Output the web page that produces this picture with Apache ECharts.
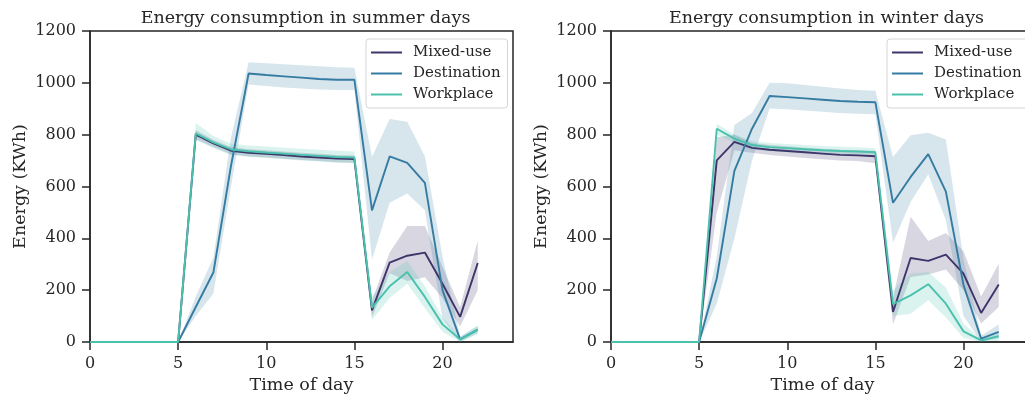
<!DOCTYPE html>
<html>
<head>
<meta charset="utf-8">
<script src="https://cdn.jsdelivr.net/npm/echarts@6/dist/echarts.min.js"></script>
<style>
  html, body { margin: 0; padding: 0; background: #fff; }
  #main { width: 1025px; height: 398px; }
</style>
</head>
<body>
<div id="main"></div>
<script>
const hours = [0,1,2,3,4,5,6,7,8,9,10,11,12,13,14,15,16,17,18,19,20,21,22];
const names = ['Mixed-use', 'Destination', 'Workplace'];
const titles = ['Energy consumption in summer days', 'Energy consumption in winter days'];

// summer
const summerMixed   = [0,0,0,0,0,0,800,766,738,730,726,721,716,712,708,706,122,306,333,345,225,97,305];
const summerMixedLo = [0,0,0,0,0,0,782,752,724,716,712,707,702,698,694,692,95,265,235,250,170,60,200];
const summerMixedHi = [0,0,0,0,0,0,818,780,752,744,740,735,730,726,722,720,160,345,448,448,290,135,392];
const summerDest    = [0,0,0,0,0,0,135,268,680,1036,1030,1025,1020,1015,1012,1012,508,716,691,614,200,10,48];
const summerDestLo  = [0,0,0,0,0,0,100,187,600,994,988,982,978,974,972,972,318,537,573,508,90,0,35];
const summerDestHi  = [0,0,0,0,0,0,175,326,790,1079,1076,1072,1068,1064,1060,1058,714,860,850,717,330,20,62];
const summerWork    = [0,0,0,0,0,0,805,770,743,736,731,727,722,718,714,712,133,215,270,174,68,10,48];
const summerWorkLo  = [0,0,0,0,0,0,780,748,722,715,710,705,700,696,692,690,85,170,225,130,40,0,30];
const summerWorkHi  = [0,0,0,0,0,0,845,795,765,758,754,750,746,742,738,735,175,270,313,215,95,20,65];

// winter
const winterMixed   = [0,0,0,0,0,0,701,772,749,742,737,732,727,722,720,717,116,324,313,337,264,112,222];
const winterMixedLo = [0,0,0,0,0,0,500,740,730,722,716,710,705,700,698,690,68,251,260,280,200,71,135];
const winterMixedHi = [0,0,0,0,0,0,790,800,768,760,755,750,746,742,740,738,170,483,390,421,350,176,303];
const winterDest    = [0,0,0,0,0,0,245,660,823,949,945,940,935,930,927,925,537,637,725,580,220,13,39];
const winterDestLo  = [0,0,0,0,0,0,148,399,700,901,898,893,888,884,881,879,383,540,647,470,100,0,15];
const winterDestHi  = [0,0,0,0,0,0,330,837,884,1000,998,992,985,978,972,969,714,798,807,781,320,25,68];
const winterWork    = [0,0,0,0,0,0,823,785,760,752,748,744,740,737,735,732,146,180,223,148,41,6,22];
const winterWorkLo  = [0,0,0,0,0,0,800,768,744,736,732,728,724,721,719,716,100,109,161,95,15,0,5];
const winterWorkHi  = [0,0,0,0,0,0,841,802,776,768,764,760,756,753,751,748,200,264,270,210,70,12,40];

const colors = ['#3e356b', '#357ba2', '#49c1ad'];
const ink = '#262626';
const font = '"DejaVu Serif", serif';

const panels = [
  { mean: [summerMixed, summerDest, summerWork], lo: [summerMixedLo, summerDestLo, summerWorkLo], hi: [summerMixedHi, summerDestHi, summerWorkHi] },
  { mean: [winterMixed, winterDest, winterWork], lo: [winterMixedLo, winterDestLo, winterWorkLo], hi: [winterMixedHi, winterDestHi, winterWorkHi] }
];

const gridLeft = [90, 611];
const plotW = 423;

// confidence band: one polygon through the upper edge and back along the lower edge
function bandRender(color) {
  return function (params, api) {
    if (params.dataIndexInside !== 0) return;
    const n = params.dataInsideLength;
    const top = [], bottom = [];
    for (let i = 0; i < n; i++) {
      const x = api.value(0, i);
      top.push(api.coord([x, api.value(2, i)]));
      bottom.push(api.coord([x, api.value(1, i)]));
    }
    return {
      type: 'polygon',
      shape: { points: top.concat(bottom.reverse()) },
      style: { fill: color, opacity: 0.2 },
      silent: true
    };
  };
}

const series = [];
panels.forEach((p, g) => {
  names.forEach((n, k) => {
    series.push({
      name: n + ' band' + g, type: 'custom', xAxisIndex: g, yAxisIndex: g,
      data: hours.map((h, i) => [h, p.lo[k][i], p.hi[k][i]]),
      encode: { x: 0, y: [1, 2] },
      renderItem: bandRender(colors[k]), clip: true, silent: true, z: 1
    });
  });
  names.forEach((n, k) => {
    series.push({
      name: n, type: 'line', xAxisIndex: g, yAxisIndex: g,
      data: hours.map((h, i) => [h, p.mean[k][i]]), symbol: 'none',
      lineStyle: { color: colors[k], width: 1.9 },
      itemStyle: { color: colors[k] }, z: 3
    });
  });
});

const chart = echarts.init(document.getElementById('main'), null, { renderer: 'canvas' });

chart.setOption({
  backgroundColor: '#fff',
  animation: false,
  color: colors,
  title: titles.map((t, g) => ({
    text: t, left: gridLeft[g] + plotW / 2 - 1, top: 4, textAlign: 'center',
    textStyle: { fontFamily: font, fontSize: 17.5, fontWeight: 'normal', color: ink }
  })),
  legend: [0, 1].map(g => ({
    data: names, orient: 'vertical',
    left: g === 0 ? 366 : 887, top: 39,
    icon: 'rect', itemWidth: 31, itemHeight: 2, itemGap: 4,
    padding: [5, 7, 5, 5],
    backgroundColor: '#fff', borderColor: '#d5d5d5', borderWidth: 1, borderRadius: 3,
    selectedMode: false,
    textStyle: { fontFamily: font, fontSize: 15, color: ink, lineHeight: 17, padding: [0, 0, 0, 6] }
  })),
  grid: [0, 1].map(g => ({
    left: gridLeft[g], top: 31, width: plotW, height: 311,
    outerBoundsMode: 'none', containLabel: false,
    show: true, borderColor: ink, borderWidth: 1.5, backgroundColor: 'transparent'
  })),
  xAxis: [0, 1].map(g => ({
    type: 'value', gridIndex: g, min: 0, max: 24, interval: 5,
    name: 'Time of day', nameLocation: 'middle', nameGap: 32,
    nameTextStyle: { fontFamily: font, fontSize: 17.5, color: ink },
    splitLine: { show: false },
    axisLine: { lineStyle: { color: ink, width: 1.5 } },
    axisTick: { length: 8, lineStyle: { color: ink, width: 1.5 } },
    axisLabel: { fontFamily: font, fontSize: 16, color: ink, margin: 14, showMaxLabel: false }
  })),
  yAxis: [0, 1].map(g => ({
    type: 'value', gridIndex: g, min: 0, max: 1200, interval: 200,
    name: 'Energy (KWh)', nameLocation: 'middle', nameGap: 61,
    nameTextStyle: { fontFamily: font, fontSize: 17.5, color: ink },
    splitLine: { show: false },
    axisLine: { lineStyle: { color: ink, width: 1.5 } },
    axisTick: { length: 8, lineStyle: { color: ink, width: 1.5 } },
    axisLabel: { fontFamily: font, fontSize: 16, color: ink, margin: 14, formatter: v => String(v) }
  })),
  series: series
});
</script>
</body>
</html>
